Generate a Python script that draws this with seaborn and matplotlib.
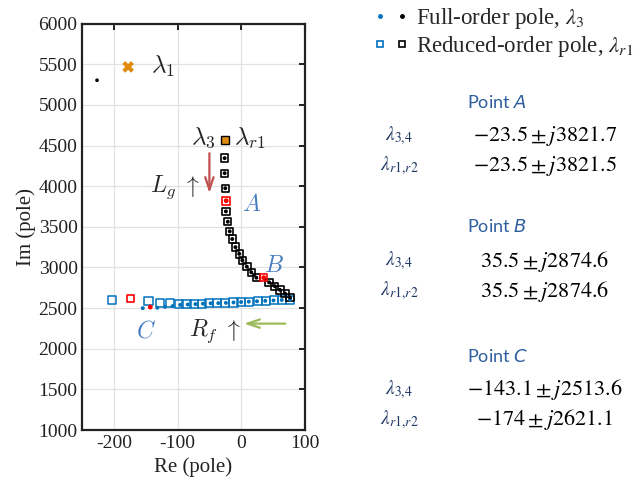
import matplotlib
matplotlib.use('Agg')
import matplotlib.pyplot as plt
import seaborn as sns
import numpy as np
import pandas as pd
from matplotlib.lines import Line2D
from matplotlib.legend_handler import HandlerTuple

# reduced-order poles while L_g increases (black branch)
lg_red_re = [-26, -26, -25, -24, -21, -18, -14, -9, -3, 2, 9, 16, 24, 44, 53, 61, 69, 77]
lg_red_im = [4345, 4160, 3975, 3690, 3563, 3445, 3350, 3250, 3168, 3087, 3010, 2940, 2875, 2818, 2770, 2725, 2680, 2630]
# full-order poles while L_g increases
lg_full_re = [-26, -26, -25, -24, -21, -18, -14, -9, -3, 2, 9, 16, 24, 44, 53, 61, 69, 77]
lg_full_im = [4345, 4160, 3975, 3690, 3563, 3445, 3350, 3250, 3168, 3087, 3010, 2940, 2875, 2818, 2770, 2725, 2680, 2630]

# reduced-order poles while R_f increases (blue branch)
rf_red_re = [-204, -146, -128, -112, -98, -86, -74, -62, -50, -38, -25, -12, 0, 13, 26, 39, 52, 65, 77]
rf_red_im = [2605, 2585, 2560, 2560, 2550, 2550, 2550, 2555, 2560, 2560, 2565, 2570, 2575, 2580, 2585, 2590, 2595, 2600, 2605]
# full-order poles while R_f increases
rf_full_re = [-155, -132, -120, -108, -96, -84, -72, -60, -48, -36, -24, -12, 0, 12, 25, 38, 51, 64, 77]
rf_full_im = [2500, 2505, 2515, 2525, 2540, 2545, 2550, 2555, 2560, 2562, 2565, 2570, 2575, 2580, 2585, 2590, 2595, 2600, 2605]

# highlighted operating points A, B, C
pts_name = ['A', 'B', 'C']
pts_full_re = [-23.5, 35.5, -143.1]
pts_full_im = [3821.7, 2874.6, 2513.6]
pts_red_re = [-23.5, 35.5, -174]
pts_red_im = [3821.5, 2874.6, 2621.1]

# other poles
lam1_red = (-178, 5467)
lam1_full = (-227, 5303)
lam3_start = (-26, 4565)

sns.set_style('whitegrid')
plt.rcParams['font.family'] = ['Liberation Serif', 'DejaVu Serif']
plt.rcParams['mathtext.fontset'] = 'cm'
plt.rcParams['axes.unicode_minus'] = False

fig = plt.figure(figsize=(6.44, 4.91), dpi=100)
ax = fig.add_axes([0.128, 0.124, 0.345, 0.828])

blue = '#0072BD'
sq = dict(marker='s', facecolor='none', legend=False, ax=ax)

sns.scatterplot(x=rf_red_re, y=rf_red_im, s=34, edgecolor=blue, linewidth=1.1, **sq)
sns.scatterplot(x=lg_red_re, y=lg_red_im, s=28, edgecolor='black', linewidth=1.2, **sq)
sns.scatterplot(x=pts_red_re, y=pts_red_im, s=30, edgecolor='red', linewidth=1.2, **sq)
sns.scatterplot(x=rf_full_re, y=rf_full_im, s=8, color=blue, edgecolor='none', legend=False, ax=ax)
sns.scatterplot(x=lg_full_re, y=lg_full_im, s=8, color='black', edgecolor='none', legend=False, ax=ax)
sns.scatterplot(x=pts_full_re, y=pts_full_im, s=12, color='red', edgecolor='none', legend=False, ax=ax)

orange = '#E08A10'
sns.scatterplot(x=[lam1_red[0]], y=[lam1_red[1]], marker='X', s=70, color=orange, edgecolor='none', legend=False, ax=ax)
sns.scatterplot(x=[lam1_full[0]], y=[lam1_full[1]], s=7, color='black', edgecolor='none', legend=False, ax=ax)
sns.scatterplot(x=[lam3_start[0]], y=[lam3_start[1]], marker='s', s=40, color=orange, edgecolor='black', linewidth=1.0, legend=False, ax=ax)

ax.set_xlim(-250, 100)
ax.set_ylim(1000, 6000)
ax.set_xticks([-200, -100, 0, 100])
ax.set_yticks(np.arange(1000, 6001, 500))
ax.grid(True, color='#e2e2e2', lw=0.9)
for s in ax.spines.values():
    s.set_color('#222222')
    s.set_linewidth(1.6)
ax.tick_params(direction='in', length=4, width=1.4, top=True, right=True,
               labelsize=14, colors='#222222', labelcolor='#222222')
ax.set_xlabel('Re (pole)', fontsize=15, color='#222222')
ax.set_ylabel('Im (pole)', fontsize=15, color='#222222', labelpad=2)

# annotations
ax.text(-142, 5470, r'$\lambda_1$', fontsize=18, va='center', ha='left')
ax.text(-40, 4590, r'$\lambda_3$', fontsize=18, va='center', ha='right')
ax.text(-12, 4590, r'$\lambda_{r1}$', fontsize=18, va='center', ha='left')
ax.text(-104, 3990, r'$L_g\ \uparrow$', fontsize=17, va='center', ha='center')
ax.text(-41, 2215, r'$R_f\ \uparrow$', fontsize=17, va='center', ha='center')
lblue = '#4A7EC2'
ax.text(16, 3770, r'$A$', fontsize=17, color=lblue, va='center', ha='center')
ax.text(52, 3010, r'$B$', fontsize=17, color=lblue, va='center', ha='center')
ax.text(-150, 2210, r'$C$', fontsize=17, color=lblue, va='center', ha='center')
ax.annotate('', xy=(-50, 3880), xytext=(-50, 4440),
            arrowprops=dict(arrowstyle='->,head_length=0.9,head_width=0.3', color='#C0504D', lw=1.6))
ax.annotate('', xy=(0, 2310), xytext=(74, 2310),
            arrowprops=dict(arrowstyle='->,head_length=0.9,head_width=0.3', color='#9BBB59', lw=1.6))

# legend
h_full = (Line2D([], [], ls='', marker='o', ms=2.5, color=blue),
          Line2D([], [], ls='', marker='o', ms=2.5, color='black'))
h_red = (Line2D([], [], ls='', marker='s', ms=5, mfc='none', mec=blue, mew=1.2),
         Line2D([], [], ls='', marker='s', ms=5, mfc='none', mec='black', mew=1.2))
leg = fig.legend([h_full, h_red], [r'Full-order pole, $\lambda_3$', r'Reduced-order pole, $\lambda_{r1}$'],
                 handler_map={tuple: HandlerTuple(ndivide=None, pad=0.5)},
                 loc='upper left', bbox_to_anchor=(0.55, 1.03), frameon=False,
                 fontsize=16.5, handlelength=1.4, handletextpad=0.4, labelspacing=0.15)
for t in leg.get_texts():
    t.set_math_fontfamily('stix')

# table of operating points
rows = [
    ('Point $A$', r'$\lambda_{3{,}4}$', r'$-23.5 \pm j3821.7$', r'$\lambda_{r1{,}r2}$', r'$-23.5 \pm j3821.5$'),
    ('Point $B$', r'$\lambda_{3{,}4}$', r'$35.5 \pm j2874.6$', r'$\lambda_{r1{,}r2}$', r'$35.5 \pm j2874.6$'),
    ('Point $C$', r'$\lambda_{3{,}4}$', r'$-143.1 \pm j2513.6$', r'$\lambda_{r1{,}r2}$', r'$-174 \pm j2621.1$'),
]
head_y = [102, 227, 356]
for (title, l1, v1, l2, v2), hy in zip(rows, head_y):
    fig.text(497 / 644, 1 - hy / 491, title, fontsize=13, color='#2E5E9E', ha='center', va='center',
             family='Lato', math_fontfamily='dejavusans')
    for lab, val, dy in [(l1, v1, 34), (l2, v2, 64)]:
        y = 1 - (hy + dy) / 491
        fig.text(399 / 644, y, lab, fontsize=14, color='#1F3864', ha='center', va='center',
                 math_fontfamily='stix')
        fig.text(545 / 644, y, val, fontsize=16, color='black', ha='center', va='center',
                 math_fontfamily='stix')

fig.savefig('out.png', dpi=100)
